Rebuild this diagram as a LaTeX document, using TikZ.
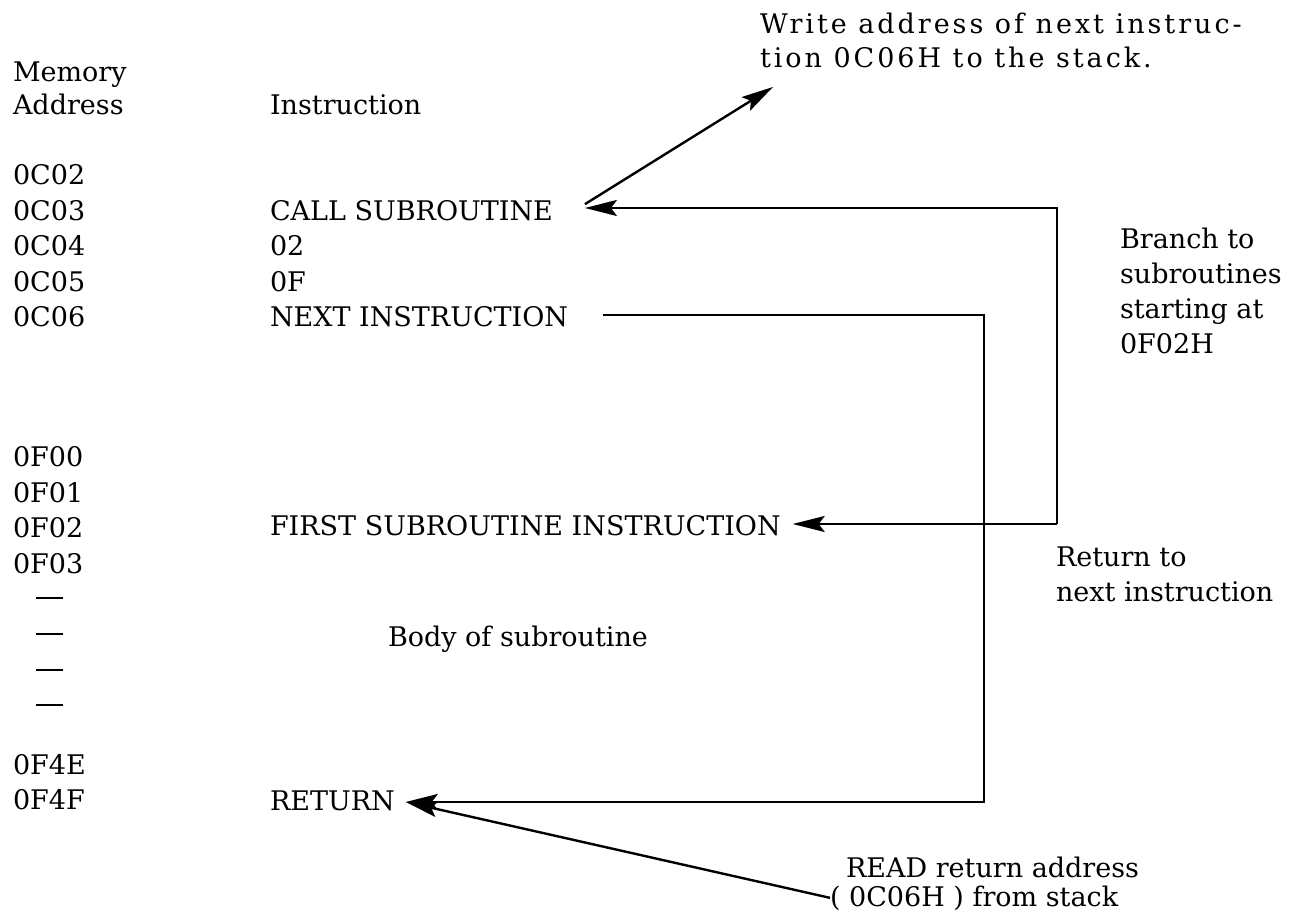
\documentclass[tikz,border=0pt]{standalone}
\usepackage{fontspec}
\setmainfont{DejaVu Serif}
\newfontfamily\wideserif{DejaVu Serif}[LetterSpace=11]
\usetikzlibrary{arrows.meta}
\begin{document}
\begin{tikzpicture}[x=0.5pt,y=-0.5pt,
  txt/.style={anchor=base west,inner sep=0pt,outer sep=0pt,font=\fontsize{13.5pt}{16pt}\selectfont},
  wtxt/.style={txt,font=\wideserif\fontsize{13.5pt}{16pt}\selectfont},
  conn/.style={line width=1.2pt},
  arr/.style={conn,-{Stealth[length=16pt,width=8pt,inset=3pt]}},
  dashmark/.style={line width=1.1pt}]
\fill[white] (0,0) rectangle (1294,913);
\useasboundingbox (0,0) rectangle (1294,913);

% headings
\node[txt] (hmem) at (13,82) {Memory};
\node[txt] (hadr) at (13,115) {Address};
\node[txt] (hins) at (270,115) {Instruction};

% addresses
\node[txt] (a02) at (13,185) {0C02};
\node[txt] (a03) at (13,221) {0C03};
\node[txt] (a04) at (13,256) {0C04};
\node[txt] (a05) at (13,292) {0C05};
\node[txt] (a06) at (13,327) {0C06};
\node[txt] (f00) at (13,467) {0F00};
\node[txt] (f01) at (13,503) {0F01};
\node[txt] (f02) at (13,538) {0F02};
\node[txt] (f03) at (13,574) {0F03};
\node[txt] (f4e) at (13,774) {0F4E};
\node[txt] (f4f) at (13,809) {0F4F};
\draw[dashmark] (36,598) -- (63,598);
\draw[dashmark] (36,634) -- (63,634);
\draw[dashmark] (36,670) -- (63,670);
\draw[dashmark] (36,705) -- (63,705);

% instructions (outer xsep leaves the gap before each arrow tip)
\node[txt,outer xsep=16pt] (call) at (238,221) {CALL SUBROUTINE};
\node[txt] (i02) at (270,256) {02};
\node[txt] (i0f) at (270,292) {0F};
\node[txt,outer xsep=17.5pt] (next) at (235,327) {NEXT INSTRUCTION};
\node[txt,outer xsep=6pt] (first) at (258,536) {FIRST SUBROUTINE INSTRUCTION};
\node[txt] (body) at (388,646) {Body of subroutine};
\node[txt,outer xsep=5.5pt] (ret) at (259,810) {RETURN};

% annotations
\node[wtxt] (w1) at (760,34) {Write address of next instruc-};
\node[wtxt] (w2) at (760,68) {tion 0C06H to the stack.};
\node[txt] (b1) at (1120,249) {Branch to};
\node[txt] (b2) at (1120,284) {subroutines};
\node[txt] (b3) at (1120,319) {starting at};
\node[txt] (b4) at (1120,354) {0F02H};
\node[txt] (r1) at (1056,567) {Return to};
\node[txt] (r2) at (1056,602) {next instruction};
\node[txt] (rd1) at (846,877) {READ return address};
\node[txt] (rd2) at (830,906) {( 0C06H ) from stack};

% routing points
\coordinate (c1) at (1057,208);
\coordinate (c2) at (1057,524);
\coordinate (i1) at (984,315);
\coordinate (i2) at (984,802);
\coordinate (wt) at (773,87);

% connectors
\draw[arr] (c2) -- (c1) -- (c1 -| call.east);
\draw[arr] (c2) -- (c2 -| first.east);
\draw[arr] (i1 -| next.east) -- (i1) -- (i2) -- (i2 -| ret.east);
\draw[arr] ([yshift=3.5pt]call.east) -- (wt);
\draw[arr] (rd2.west) -- (i2 -| ret.east);
\end{tikzpicture}
\end{document}
